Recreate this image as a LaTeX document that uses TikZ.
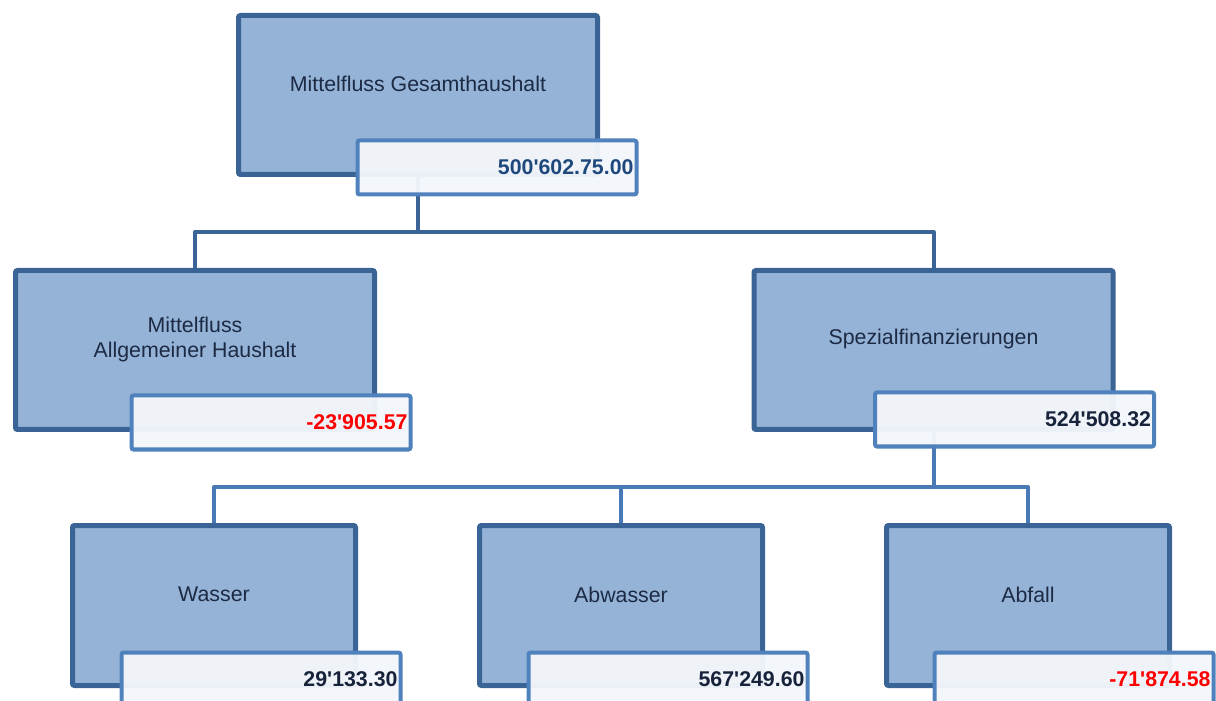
\documentclass[tikz,border=0pt]{standalone}
\usepackage{fontspec}
\setmainfont{Liberation Sans}[Ligatures=TeXOff]
\usetikzlibrary{backgrounds}
\definecolor{boxfill}{HTML}{95B3D7}
\definecolor{boxline}{HTML}{3B6496}
\definecolor{valline}{HTML}{4F81BD}
\definecolor{valfill}{HTML}{F3F6FA}
\definecolor{lbltext}{HTML}{1C2A44}
\definecolor{valtext}{HTML}{17233B}
\definecolor{toptext}{HTML}{1F497D}
\definecolor{minus}{HTML}{FF0000}
\definecolor{lowconn}{HTML}{4A7AB5}

\begin{document}
\begin{tikzpicture}[
  x=0.75pt, y=0.75pt,
  every node/.style={font=\fontsize{16}{18.75}\selectfont},
  hauptbox/.style={draw=boxline, fill=boxfill, line width=3.75pt, rounded corners=1.5pt,
    minimum width=269.25pt, minimum height=119.25pt},
  teilbox/.style={hauptbox, minimum width=212.25pt, minimum height=120pt},
  lbl/.style={align=center, text=lbltext, yshift=8.25pt},
  wertbox/.style={draw=valline, fill=valfill, fill opacity=0.96, text opacity=1, line width=3pt,
    rounded corners=1.5pt, anchor=north east, text width=204.75pt, inner xsep=2.25pt,
    minimum height=40.5pt, align=right, text=valtext,
    font=\fontsize{16}{18.75}\selectfont\bfseries},
  linie/.style={draw=boxline, line width=3pt, line join=round},
  linie2/.style={linie, draw=lowconn}
]
\useasboundingbox (0,0) rectangle (1216,700);

\node[hauptbox, label={[lbl]center:Mittelfluss Gesamthaushalt}] (gesamt) at (418,605) {};
\node[wertbox, text=toptext] (gesamt-w) at ([shift={(38.5,38.5)}]gesamt.south east) {500'602.75.00};

\node[hauptbox, label={[lbl]center:Mittelfluss\\Allgemeiner Haushalt}] (allg) at (195,350) {};
\node[wertbox, text=minus] (allg-w) at ([shift={(35.5,38.5)}]allg.south east) {-23'905.57};

\node[hauptbox, label={[lbl]center:Spezialfinanzierungen}] (spez) at (933.5,350) {};
\node[wertbox] (spez-w) at ([shift={(40.5,41.5)}]spez.south east) {524'508.32};

\node[teilbox, label={[lbl]center:Wasser}] (wasser) at (214,94.5) {};
\node[wertbox] (wasser-w) at ([shift={(44.5,37.5)}]wasser.south east) {29'133.30};

\node[teilbox, label={[lbl]center:Abwasser}] (abwasser) at (621,94.5) {};
\node[wertbox] (abwasser-w) at ([shift={(44.5,37.5)}]abwasser.south east) {567'249.60};

\node[teilbox, label={[lbl]center:Abfall}] (abfall) at (1028,94.5) {};
\node[wertbox, text=minus] (abfall-w) at ([shift={(43.5,37.5)}]abfall.south east) {-71'874.58};

\begin{scope}[on background layer]
  \coordinate (gabel1) at (418,468);
  \draw[linie] (gesamt.south) -- (gabel1) -| (allg.north);
  \draw[linie] (gabel1) -| (spez.north);
  \coordinate (gabel2) at (933.5,213);
  \draw[linie2] (spez.south) -- (gabel2) -| (wasser.north);
  \draw[linie2] (gabel2) -| (abfall.north);
  \draw[linie2] (abwasser.north) -- (abwasser.north |- gabel2);
\end{scope}
\end{tikzpicture}
\end{document}
